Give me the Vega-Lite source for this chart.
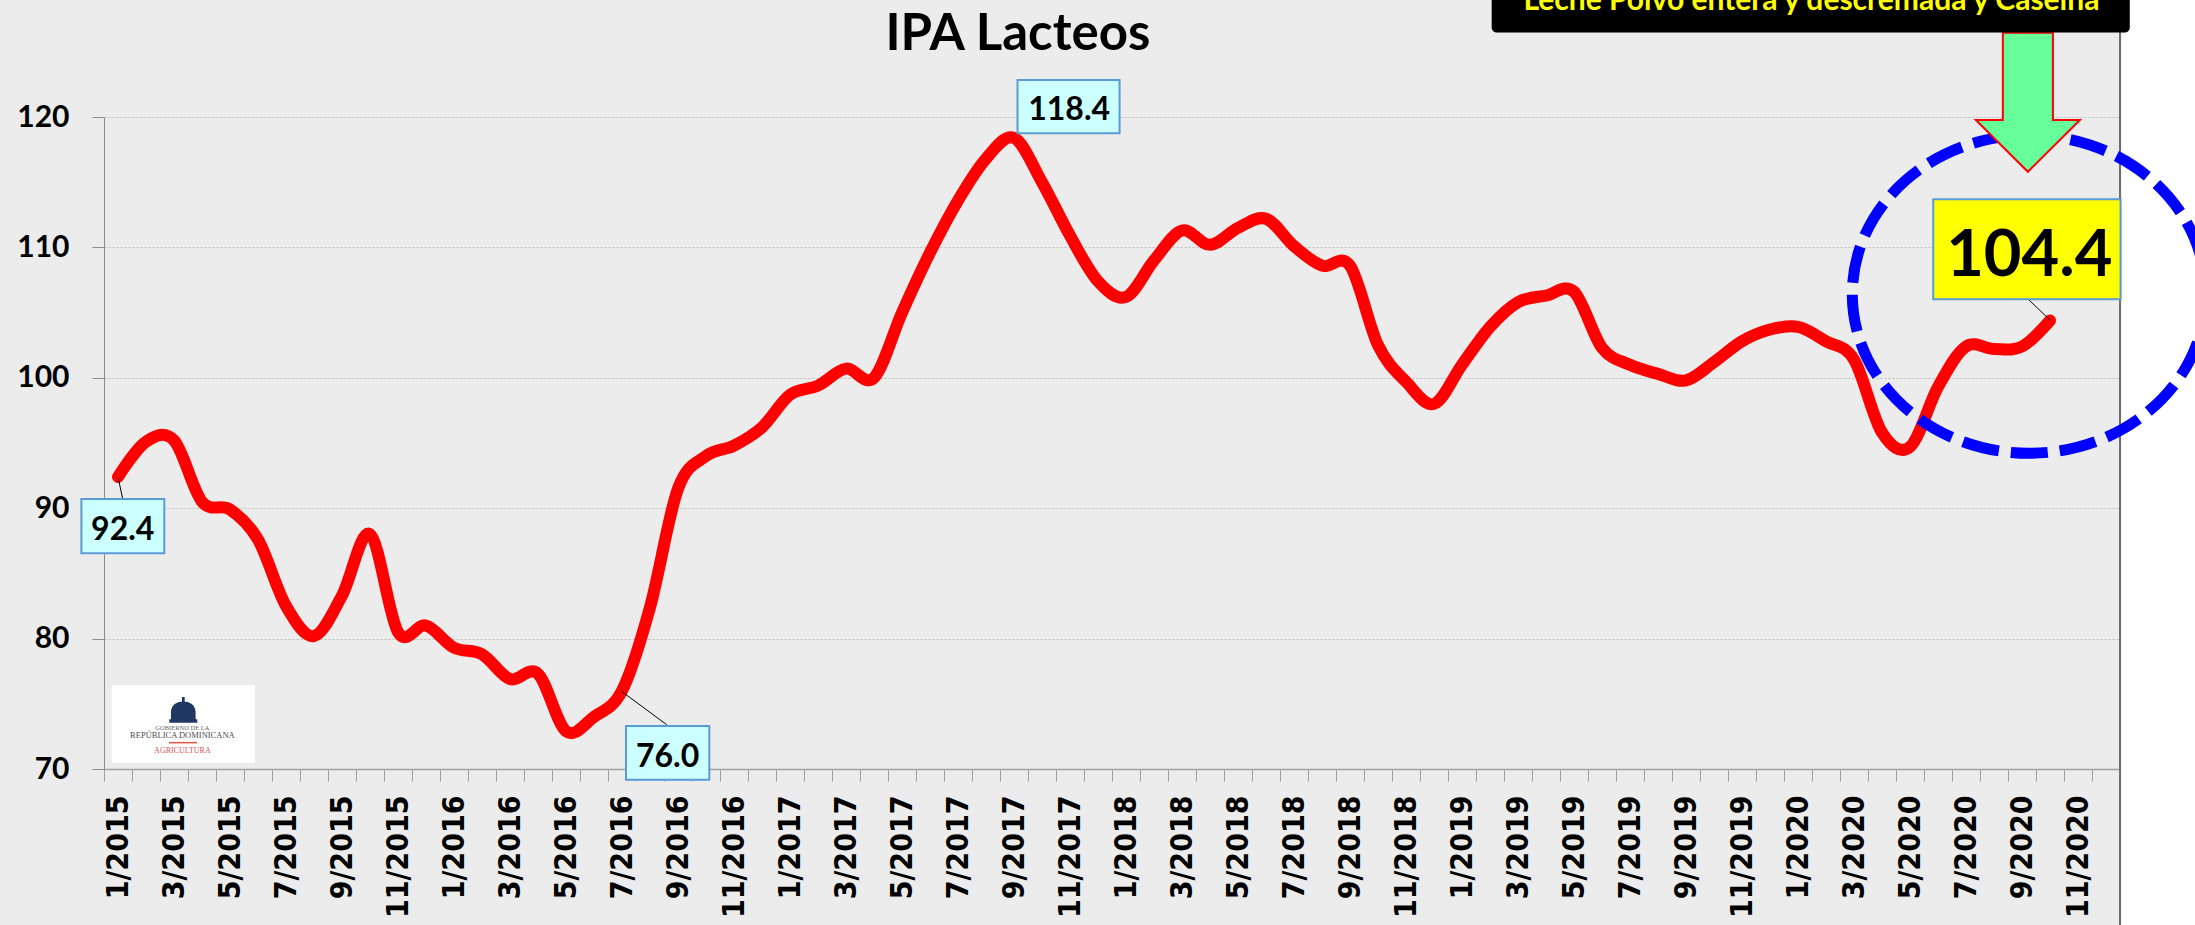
{
  "$schema": "https://vega.github.io/schema/vega-lite/v6.json",
  "width": 2016,
  "height": 652,
  "autosize": {"type": "none"},
  "padding": {"left": 104, "top": 117, "right": 75, "bottom": 156},
  "background": "#ECECEC",
  "config": {"view": {"stroke": null}},
  "datasets": {
    "ipa": [
      {"m": "1/2015", "v": 92.4}, {"m": "2/2015", "v": 95.1}, {"m": "3/2015", "v": 95.2}, {"m": "4/2015", "v": 90.5},
      {"m": "5/2015", "v": 89.9}, {"m": "6/2015", "v": 87.6}, {"m": "7/2015", "v": 82.5}, {"m": "8/2015", "v": 80.2},
      {"m": "9/2015", "v": 83.3}, {"m": "10/2015", "v": 88.0}, {"m": "11/2015", "v": 80.5}, {"m": "12/2015", "v": 81.0},
      {"m": "1/2016", "v": 79.3}, {"m": "2/2016", "v": 78.8}, {"m": "3/2016", "v": 76.9}, {"m": "4/2016", "v": 77.3},
      {"m": "5/2016", "v": 72.9}, {"m": "6/2016", "v": 74.0}, {"m": "7/2016", "v": 76.0}, {"m": "8/2016", "v": 82.4},
      {"m": "9/2016", "v": 91.5}, {"m": "10/2016", "v": 94.0}, {"m": "11/2016", "v": 94.8}, {"m": "12/2016", "v": 96.2},
      {"m": "1/2017", "v": 98.7}, {"m": "2/2017", "v": 99.4}, {"m": "3/2017", "v": 100.7}, {"m": "4/2017", "v": 100.0},
      {"m": "5/2017", "v": 105.0}, {"m": "6/2017", "v": 109.6}, {"m": "7/2017", "v": 113.6}, {"m": "8/2017", "v": 116.8},
      {"m": "9/2017", "v": 118.4}, {"m": "10/2017", "v": 115.0}, {"m": "11/2017", "v": 110.9}, {"m": "12/2017", "v": 107.4},
      {"m": "1/2018", "v": 106.2}, {"m": "2/2018", "v": 109.0}, {"m": "3/2018", "v": 111.3}, {"m": "4/2018", "v": 110.2},
      {"m": "5/2018", "v": 111.5}, {"m": "6/2018", "v": 112.2}, {"m": "7/2018", "v": 110.1}, {"m": "8/2018", "v": 108.6},
      {"m": "9/2018", "v": 108.6}, {"m": "10/2018", "v": 102.5}, {"m": "11/2018", "v": 99.7}, {"m": "12/2018", "v": 98.0},
      {"m": "1/2019", "v": 101.0}, {"m": "2/2019", "v": 103.9}, {"m": "3/2019", "v": 105.8}, {"m": "4/2019", "v": 106.3},
      {"m": "5/2019", "v": 106.6}, {"m": "6/2019", "v": 102.3}, {"m": "7/2019", "v": 101.0}, {"m": "8/2019", "v": 100.3},
      {"m": "9/2019", "v": 99.8}, {"m": "10/2019", "v": 101.2}, {"m": "11/2019", "v": 102.8}, {"m": "12/2019", "v": 103.7},
      {"m": "1/2020", "v": 103.9}, {"m": "2/2020", "v": 102.8}, {"m": "3/2020", "v": 101.4}, {"m": "4/2020", "v": 95.8},
      {"m": "5/2020", "v": 94.7}, {"m": "6/2020", "v": 99.3}, {"m": "7/2020", "v": 102.4}, {"m": "8/2020", "v": 102.2},
      {"m": "9/2020", "v": 102.4}, {"m": "10/2020", "v": 104.4}
    ]
  },
  "layer": [
    {
      "data": {"values": [{}]},
      "layer": [
        {
          "mark": {"type": "rect", "fill": "#FFFFFF", "clip": false},
          "encoding": {
            "x": {"datum": 72.06, "type": "quantitative", "scale": {"domain": [0, 72], "nice": false, "zero": false}, "axis": null},
            "x2": {"datum": 76},
            "y": {"datum": 135, "type": "quantitative", "scale": {"domain": [70, 120], "nice": false, "zero": false}, "axis": null},
            "y2": {"datum": 50}
          }
        },
        {
          "mark": {"type": "rule", "color": "#6E6E6E", "strokeWidth": 2, "clip": false},
          "encoding": {
            "x": {"datum": 72, "type": "quantitative", "scale": {"domain": [0, 72], "nice": false, "zero": false}, "axis": null},
            "y": {"datum": 131, "type": "quantitative", "scale": {"domain": [70, 120], "nice": false, "zero": false}, "axis": null},
            "y2": {"datum": 50}
          }
        },
        {
          "mark": {"type": "rect", "fill": "#FFFFFF", "clip": false},
          "encoding": {
            "x": {"datum": 0.275, "type": "quantitative", "scale": {"domain": [0, 72], "nice": false, "zero": false}, "axis": null},
            "x2": {"datum": 5.39},
            "y": {"datum": 76.44, "type": "quantitative", "scale": {"domain": [70, 120], "nice": false, "zero": false}, "axis": null},
            "y2": {"datum": 70.48}
          }
        },
        {
          "mark": {"type": "point", "shape": "M -1 0.6 L -0.88 0.6 L -0.88 0.1 C -0.88 -0.45 -0.45 -0.68 0 -0.68 C 0.45 -0.68 0.88 -0.45 0.88 0.1 L 0.88 0.6 L 1 0.6 L 1 0.85 L -1 0.85 Z M -0.1 -0.66 L -0.1 -1 L 0.1 -1 L 0.1 -0.66 Z", "size": 784, "filled": true, "fill": "#1F3864", "strokeWidth": 0, "opacity": 1, "clip": false},
          "encoding": {
            "x": {"datum": 2.832, "type": "quantitative", "scale": {"domain": [0, 72], "nice": false, "zero": false}, "axis": null},
            "y": {"datum": 74.45, "type": "quantitative", "scale": {"domain": [70, 120], "nice": false, "zero": false}, "axis": null}
          }
        },
        {
          "mark": {"type": "text", "font": "Liberation Serif", "fontSize": 6.5, "color": "#666666", "align": "center", "baseline": "middle", "clip": false},
          "encoding": {
            "x": {"datum": 2.8, "type": "quantitative", "scale": {"domain": [0, 72], "nice": false, "zero": false}, "axis": null},
            "y": {"datum": 73.17, "type": "quantitative", "scale": {"domain": [70, 120], "nice": false, "zero": false}, "axis": null},
            "text": {"value": "GOBIERNO DE LA"}
          }
        },
        {
          "mark": {"type": "text", "font": "Liberation Serif", "fontSize": 8.5, "color": "#4D4D4D", "align": "center", "baseline": "middle", "clip": false},
          "encoding": {
            "x": {"datum": 2.8, "type": "quantitative", "scale": {"domain": [0, 72], "nice": false, "zero": false}, "axis": null},
            "y": {"datum": 72.58, "type": "quantitative", "scale": {"domain": [70, 120], "nice": false, "zero": false}, "axis": null},
            "text": {"value": "REPÚBLICA DOMINICANA"}
          }
        },
        {
          "mark": {"type": "rule", "color": "#E2553F", "strokeWidth": 1.5, "clip": false},
          "encoding": {
            "x": {"datum": 2.32, "type": "quantitative", "scale": {"domain": [0, 72], "nice": false, "zero": false}, "axis": null},
            "x2": {"datum": 3.32},
            "y": {"datum": 72.02, "type": "quantitative", "scale": {"domain": [70, 120], "nice": false, "zero": false}, "axis": null}
          }
        },
        {
          "mark": {"type": "text", "font": "Liberation Serif", "fontSize": 8, "color": "#D9534F", "align": "center", "baseline": "middle", "clip": false},
          "encoding": {
            "x": {"datum": 2.8, "type": "quantitative", "scale": {"domain": [0, 72], "nice": false, "zero": false}, "axis": null},
            "y": {"datum": 71.36, "type": "quantitative", "scale": {"domain": [70, 120], "nice": false, "zero": false}, "axis": null},
            "text": {"value": "AGRICULTURA"}
          }
        }
      ]
    },
    {
      "data": {"name": "ipa"},
      "mark": {"type": "line", "color": "#FF0000", "strokeWidth": 12, "interpolate": "cardinal", "strokeCap": "round", "strokeJoin": "round"},
      "encoding": {
        "x": {
          "field": "m", "type": "ordinal", "bandPosition": 0.5,
          "scale": {
            "type": "band", "paddingInner": 0, "paddingOuter": 0,
            "domain": ["1/2015","2/2015","3/2015","4/2015","5/2015","6/2015","7/2015","8/2015","9/2015","10/2015","11/2015","12/2015",
                       "1/2016","2/2016","3/2016","4/2016","5/2016","6/2016","7/2016","8/2016","9/2016","10/2016","11/2016","12/2016",
                       "1/2017","2/2017","3/2017","4/2017","5/2017","6/2017","7/2017","8/2017","9/2017","10/2017","11/2017","12/2017",
                       "1/2018","2/2018","3/2018","4/2018","5/2018","6/2018","7/2018","8/2018","9/2018","10/2018","11/2018","12/2018",
                       "1/2019","2/2019","3/2019","4/2019","5/2019","6/2019","7/2019","8/2019","9/2019","10/2019","11/2019","12/2019",
                       "1/2020","2/2020","3/2020","4/2020","5/2020","6/2020","7/2020","8/2020","9/2020","10/2020","11/2020","12/2020"]
          },
          "axis": {
            "title": null, "tickBand": "extent", "grid": false, "labelAngle": -90, "labelOverlap": false,
            "labelExpr": "parseInt(datum.value) % 2 == 1 ? datum.value : ''",
            "labelFont": "DejaVu Sans Condensed", "labelFontWeight": "bold", "labelFontSize": 30, "labelColor": "#000000",
            "labelPadding": 14, "tickSize": 12, "tickColor": "#A0A0A0", "domainColor": "#A0A0A0", "domainWidth": 1.5
          }
        },
        "y": {
          "field": "v", "type": "quantitative",
          "scale": {"domain": [70, 120], "nice": false, "zero": false},
          "axis": {
            "title": null, "values": [70, 80, 90, 100, 110, 120], "grid": true, "gridColor": "#BDBDBD", "gridDash": [2, 2], "gridWidth": 1,
            "labelFont": "Lato", "labelFontWeight": "bold", "labelFontSize": 30, "labelColor": "#000000", "labelPadding": 23,
            "tickSize": 12, "tickColor": "#8C8C8C", "domainColor": "#8C8C8C", "zindex": 0
          }
        },
        "order": {"value": null}
      }
    },
    {
      "data": {"values": [{}]},
      "layer": [
        {
          "mark": {"type": "rule", "color": "#000000", "strokeWidth": 1, "clip": false},
          "encoding": {
            "x": {"datum": 0.511, "type": "quantitative", "scale": {"domain": [0, 72], "nice": false, "zero": false}, "axis": null},
            "x2": {"datum": 0.668},
            "y": {"datum": 92.29, "type": "quantitative", "scale": {"domain": [70, 120], "nice": false, "zero": false}, "axis": null},
            "y2": {"datum": 90.71}
          }
        },
        {
          "mark": {"type": "rule", "color": "#000000", "strokeWidth": 1, "clip": false},
          "encoding": {
            "x": {"datum": 18.489, "type": "quantitative", "scale": {"domain": [0, 72], "nice": false, "zero": false}, "axis": null},
            "x2": {"datum": 20.096},
            "y": {"datum": 75.95, "type": "quantitative", "scale": {"domain": [70, 120], "nice": false, "zero": false}, "axis": null},
            "y2": {"datum": 73.4}
          }
        },
        {
          "mark": {"type": "rule", "color": "#000000", "strokeWidth": 1, "clip": false},
          "encoding": {
            "x": {"datum": 69.5, "type": "quantitative", "scale": {"domain": [0, 72], "nice": false, "zero": false}, "axis": null},
            "x2": {"datum": 68.725},
            "y": {"datum": 104.43, "type": "quantitative", "scale": {"domain": [70, 120], "nice": false, "zero": false}, "axis": null},
            "y2": {"datum": 106.02}
          }
        },
        {
          "mark": {"type": "rect", "fill": "#CCFFFF", "stroke": "#5B9BD5", "strokeWidth": 2, "clip": false},
          "encoding": {
            "x": {"datum": -0.807, "type": "quantitative", "scale": {"domain": [0, 72], "nice": false, "zero": false}, "axis": null},
            "x2": {"datum": 2.154},
            "y": {"datum": 90.71, "type": "quantitative", "scale": {"domain": [70, 120], "nice": false, "zero": false}, "axis": null},
            "y2": {"datum": 86.54}
          }
        },
        {
          "mark": {"type": "rect", "fill": "#CCFFFF", "stroke": "#5B9BD5", "strokeWidth": 2, "clip": false},
          "encoding": {
            "x": {"datum": 18.643, "type": "quantitative", "scale": {"domain": [0, 72], "nice": false, "zero": false}, "axis": null},
            "x2": {"datum": 21.618},
            "y": {"datum": 73.3, "type": "quantitative", "scale": {"domain": [70, 120], "nice": false, "zero": false}, "axis": null},
            "y2": {"datum": 69.18}
          }
        },
        {
          "mark": {"type": "rect", "fill": "#CCFFFF", "stroke": "#5B9BD5", "strokeWidth": 2, "clip": false},
          "encoding": {
            "x": {"datum": 32.625, "type": "quantitative", "scale": {"domain": [0, 72], "nice": false, "zero": false}, "axis": null},
            "x2": {"datum": 36.27},
            "y": {"datum": 122.84, "type": "quantitative", "scale": {"domain": [70, 120], "nice": false, "zero": false}, "axis": null},
            "y2": {"datum": 118.75}
          }
        },
        {
          "mark": {"type": "rect", "fill": "#FFFF00", "stroke": "#5B9BD5", "strokeWidth": 2, "clip": false},
          "encoding": {
            "x": {"datum": 65.33, "type": "quantitative", "scale": {"domain": [0, 72], "nice": false, "zero": false}, "axis": null},
            "x2": {"datum": 72.02},
            "y": {"datum": 113.69, "type": "quantitative", "scale": {"domain": [70, 120], "nice": false, "zero": false}, "axis": null},
            "y2": {"datum": 106.02}
          }
        },
        {
          "mark": {"type": "text", "font": "Lato", "fontWeight": "bold", "fontSize": 32, "color": "#000000", "align": "center", "baseline": "alphabetic", "clip": false},
          "encoding": {
            "x": {"datum": 0.67, "type": "quantitative", "scale": {"domain": [0, 72], "nice": false, "zero": false}, "axis": null},
            "y": {"datum": 87.56, "type": "quantitative", "scale": {"domain": [70, 120], "nice": false, "zero": false}, "axis": null},
            "text": {"value": "92.4"}
          }
        },
        {
          "mark": {"type": "text", "font": "Lato", "fontWeight": "bold", "fontSize": 32, "color": "#000000", "align": "center", "baseline": "alphabetic", "clip": false},
          "encoding": {
            "x": {"datum": 20.13, "type": "quantitative", "scale": {"domain": [0, 72], "nice": false, "zero": false}, "axis": null},
            "y": {"datum": 70.18, "type": "quantitative", "scale": {"domain": [70, 120], "nice": false, "zero": false}, "axis": null},
            "text": {"value": "76.0"}
          }
        },
        {
          "mark": {"type": "text", "font": "Lato", "fontWeight": "bold", "fontSize": 32, "color": "#000000", "align": "center", "baseline": "alphabetic", "clip": false},
          "encoding": {
            "x": {"datum": 34.47, "type": "quantitative", "scale": {"domain": [0, 72], "nice": false, "zero": false}, "axis": null},
            "y": {"datum": 119.79, "type": "quantitative", "scale": {"domain": [70, 120], "nice": false, "zero": false}, "axis": null},
            "text": {"value": "118.4"}
          }
        },
        {
          "mark": {"type": "text", "font": "Lato", "fontWeight": "bold", "fontSize": 65, "color": "#000000", "align": "center", "baseline": "alphabetic", "clip": false},
          "encoding": {
            "x": {"datum": 68.76, "type": "quantitative", "scale": {"domain": [0, 72], "nice": false, "zero": false}, "axis": null},
            "y": {"datum": 107.81, "type": "quantitative", "scale": {"domain": [70, 120], "nice": false, "zero": false}, "axis": null},
            "text": {"value": "104.4"}
          }
        },
        {
          "mark": {"type": "point", "shape": "M 1 0 C 1 0.497 0.552 0.9 0 0.9 C -0.552 0.9 -1 0.497 -1 0 C -1 -0.497 -0.552 -0.9 0 -0.9 C 0.552 -0.9 1 -0.497 1 0 Z", "size": 124892, "filled": false, "color": "#0000FF", "stroke": "#0000FF", "strokeWidth": 11, "strokeDash": [37, 12], "opacity": 1, "clip": false},
          "encoding": {
            "x": {"datum": 68.75, "type": "quantitative", "scale": {"domain": [0, 72], "nice": false, "zero": false}, "axis": null},
            "y": {"datum": 106.41, "type": "quantitative", "scale": {"domain": [70, 120], "nice": false, "zero": false}, "axis": null}
          }
        },
        {
          "mark": {"type": "point", "shape": "M -0.36 -1 L 0.36 -1 L 0.36 0.256 L 0.748 0.256 L 0 1 L -0.748 0.256 L -0.36 0.256 Z", "size": 19321, "filled": true, "fill": "#66FF99", "stroke": "#FF0000", "strokeWidth": 2, "opacity": 1, "clip": false},
          "encoding": {
            "x": {"datum": 68.71, "type": "quantitative", "scale": {"domain": [0, 72], "nice": false, "zero": false}, "axis": null},
            "y": {"datum": 121.13, "type": "quantitative", "scale": {"domain": [70, 120], "nice": false, "zero": false}, "axis": null}
          }
        },
        {
          "mark": {"type": "rect", "fill": "#000000", "cornerRadius": 5, "clip": false},
          "encoding": {
            "x": {"datum": 49.56, "type": "quantitative", "scale": {"domain": [0, 72], "nice": false, "zero": false}, "axis": null},
            "x2": {"datum": 72.35},
            "y": {"datum": 131, "type": "quantitative", "scale": {"domain": [70, 120], "nice": false, "zero": false}, "axis": null},
            "y2": {"datum": 126.48}
          }
        },
        {
          "mark": {"type": "text", "font": "Lato", "fontWeight": "bold", "fontSize": 30, "color": "#FFFF00", "align": "center", "baseline": "alphabetic", "clip": false},
          "encoding": {
            "x": {"datum": 60.98, "type": "quantitative", "scale": {"domain": [0, 72], "nice": false, "zero": false}, "axis": null},
            "y": {"datum": 128.2, "type": "quantitative", "scale": {"domain": [70, 120], "nice": false, "zero": false}, "axis": null},
            "text": {"value": "Leche Polvo entera y descremada y Caseína"}
          }
        },
        {
          "mark": {"type": "text", "font": "Lato", "fontWeight": "bold", "fontSize": 51, "color": "#000000", "align": "center", "baseline": "alphabetic", "clip": false},
          "encoding": {
            "x": {"datum": 32.64, "type": "quantitative", "scale": {"domain": [0, 72], "nice": false, "zero": false}, "axis": null},
            "y": {"datum": 125.14, "type": "quantitative", "scale": {"domain": [70, 120], "nice": false, "zero": false}, "axis": null},
            "text": {"value": "IPA Lacteos"}
          }
        }
      ]
    }
  ],
  "resolve": {"scale": {"x": "independent"}, "axis": {"x": "independent", "y": "independent"}}
}
